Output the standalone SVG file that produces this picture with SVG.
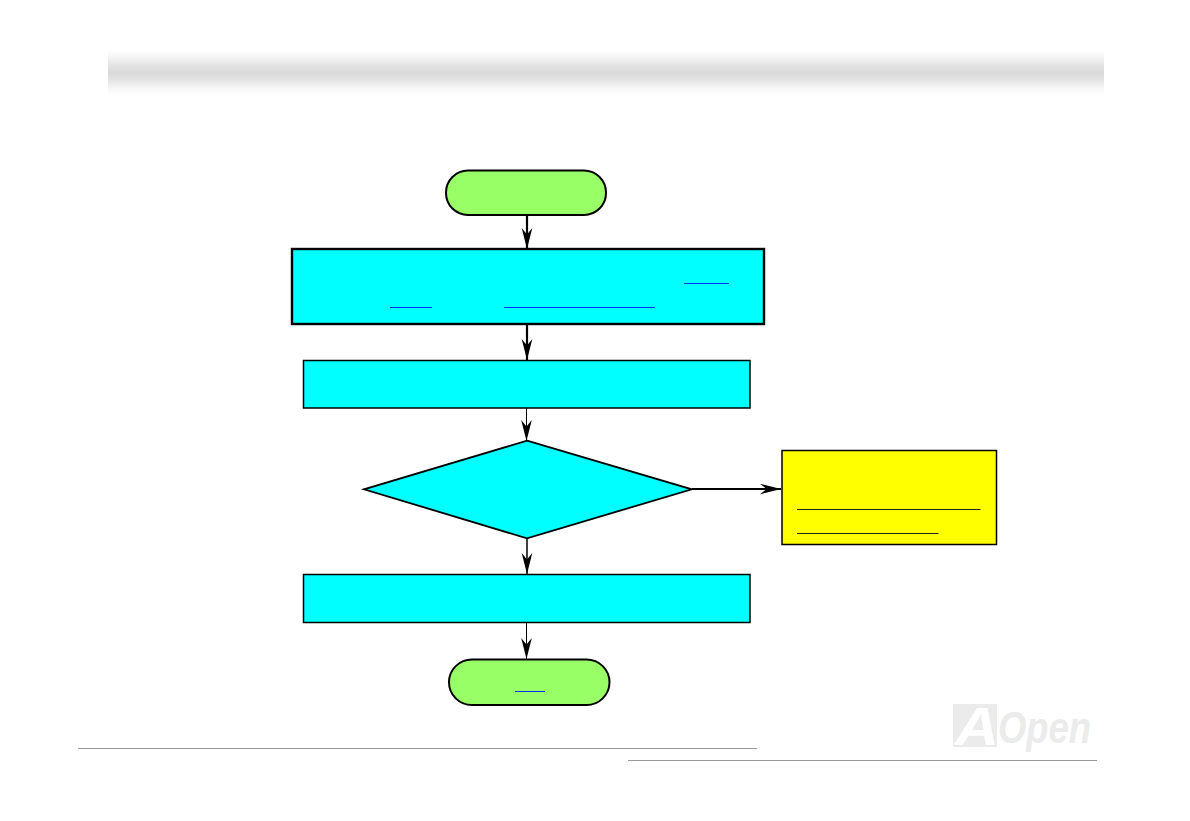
<svg xmlns="http://www.w3.org/2000/svg" width="1190" height="821" viewBox="0 0 1190 821">
<style>
.pill{fill:#9f6;stroke:#000;stroke-width:2}
.box{fill:#0ff;stroke:#000;stroke-width:1.5}
.c{fill:none;stroke:#000}
.link{stroke:#0033ee;stroke-width:1;fill:none}
.rule{stroke:#999;stroke-width:1.2;fill:none}
.logo{font-family:"Liberation Sans",Arial,sans-serif;font-weight:700;font-style:italic}
</style>
<defs>
<linearGradient id="band" x1="0" y1="0" x2="0" y2="1">
<stop offset="0" stop-color="#fff"/>
<stop offset="0.15" stop-color="#f5f5f5"/>
<stop offset="0.33" stop-color="#e4e4e4"/>
<stop offset="0.5" stop-color="#d9d9d9"/>
<stop offset="0.68" stop-color="#e6e6e6"/>
<stop offset="0.82" stop-color="#f6f6f6"/>
<stop offset="1" stop-color="#fff"/>
</linearGradient>
<marker id="arrow" markerUnits="userSpaceOnUse" markerWidth="21" markerHeight="12" refX="21" refY="6" orient="auto">
<path d="M0,0.7 L21,6 L0,11.3 L6.5,6 Z" fill="#000"/>
</marker>
</defs>
<rect id="header-band" x="108" y="50" width="996" height="46" fill="url(#band)"/>
<g id="connectors">
<path class="c" stroke-width="2.2" marker-end="url(#arrow)" d="M527,215 V249"/>
<path class="c" stroke-width="2.2" marker-end="url(#arrow)" d="M527,324 V360"/>
<path class="c" stroke-width="1" marker-end="url(#arrow)" d="M526.5,408 V441"/>
<path class="c" stroke-width="1.5" marker-end="url(#arrow)" d="M527,538 V574"/>
<path class="c" stroke-width="1" marker-end="url(#arrow)" d="M526.5,622 V659"/>
<path class="c" stroke-width="2.2" marker-end="url(#arrow)" d="M692,489 H781"/>
</g>
<g id="start"><rect class="pill" x="446" y="170.5" width="160" height="44.5" rx="22" ry="22"/></g>
<g id="step1">
<rect class="box" style="stroke-width:2.4" x="292" y="249" width="472" height="75"/>
<path class="link" d="M684,283.5 H729 M390,307.5 H432 M504,307.5 H655"/>
</g>
<g id="step2"><rect class="box" x="303.5" y="360.5" width="446.5" height="47.5"/></g>
<g id="decision"><polygon class="box" points="527,440.7 691.8,489.3 527,538.3 364,489.3" style="stroke-width:1.8"/></g>
<g id="note">
<rect x="782" y="450.5" width="214.5" height="94" fill="#ff0" stroke="#000" stroke-width="1.5"/>
<path d="M797,509.5 H980.5 M797,533.5 H938.5" stroke="#222" stroke-width="1" fill="none"/>
</g>
<g id="step3"><rect class="box" x="303.5" y="574.5" width="446.5" height="48"/></g>
<g id="end">
<rect class="pill" x="449" y="659.5" width="160.5" height="45.5" rx="23" ry="23"/>
<path class="link" d="M515,691.5 H545"/>
</g>
<g id="footer">
<path class="rule" d="M78,748.5 H757 M628,760.5 H1097"/>
</g>
<g id="logo">
<rect x="953" y="704" width="44" height="43" fill="#ebebeb"/>
<text class="logo" x="955" y="745" font-size="54" fill="#fff" textLength="44" lengthAdjust="spacingAndGlyphs">A</text>
<text class="logo" x="998" y="743" font-size="45" fill="#ebebeb" textLength="93" lengthAdjust="spacingAndGlyphs">Open</text>
</g>
</svg>
